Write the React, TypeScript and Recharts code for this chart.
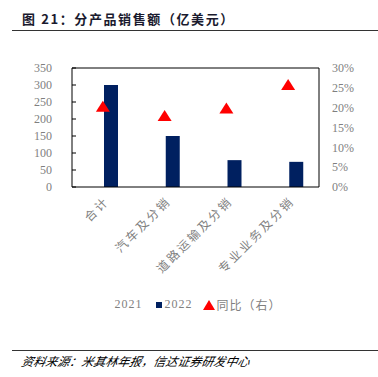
import React from "react";
import { ComposedChart, Bar, Line, XAxis, YAxis, ReferenceLine } from "recharts";

const categories = ["合计", "汽车及分销", "道路运输及分销", "专业业务及分销"];
const sales2021 = [250, 127, 66, 59];
const sales2022 = [300, 150, 79, 74];
const yoy = [0.202, 0.179, 0.198, 0.257];
const leftTicks = [0, 50, 100, 150, 200, 250, 300, 350];
const rightTicks = [0, 0.05, 0.1, 0.15, 0.2, 0.25, 0.3];

const NAVY = "#002060";
const GREY = "#7f7f7f";

const data = categories.map((name, i) => ({
  name,
  y2021: sales2021[i],
  y2022: sales2022[i],
  yoy: yoy[i],
}));

const Triangle = (props: any) => {
  const { cx, cy } = props;
  if (cx == null || cy == null) return null;
  return (
    <polygon
      points={`${cx},${cy - 6} ${cx - 7},${cy + 5} ${cx + 7},${cy + 5}`}
      fill="#ff0000"
    />
  );
};

const CatTick = (props: any) => {
  const { x, y, payload } = props;
  return (
    <text
      x={x}
      y={y}
      dy={10}
      textAnchor="end"
      fill={GREY}
      fontSize={12}
      letterSpacing={2.5}
      fontFamily="'Noto Sans CJK SC'"
      transform={`rotate(-45 ${x} ${y})`}
    >
      {payload.value}
    </text>
  );
};

const App = () => {
  return (
    <div
      style={{
        position: "absolute",
        left: 0,
        top: 0,
        width: 378,
        height: 377,
        background: "#fff",
        fontFamily: "'Liberation Serif', serif",
      }}
    >
      <div
        style={{
          position: "absolute",
          left: 22,
          top: 9,
          fontSize: 13,
          fontWeight: "bold",
          color: "#1a1a2e",
          fontFamily: "'Noto Sans CJK SC'",
          letterSpacing: 1.6,
        }}
      >
        图 21：分产品销售额（亿美元）
      </div>
      <div style={{ position: "absolute", left: 12, right: 0, top: 30, height: 1, background: "#333" }} />

      <div style={{ position: "absolute", left: 0, top: 0 }}>
        <ComposedChart
          width={378}
          height={280}
          data={data}
          margin={{ top: 68, right: 19, bottom: 0, left: 32 }}
          barSize={14}
          barGap={2}
        >
          <XAxis
            xAxisId="grid"
            type="number"
            domain={[0, 4]}
            ticks={[1, 2, 3]}
            interval={0}
            height={0}
            axisLine={false}
            tickSize={-4}
            tickLine={{ stroke: "#000" }}
            tick={false}
          />
          <XAxis
            dataKey="name"
            xAxisId="cat"
            height={93}
            axisLine={{ stroke: "#000" }}
            tickLine={false}
            tick={<CatTick />}
            interval={0}
          />
          <YAxis
            yAxisId="left"
            domain={[0, 350]}
            ticks={leftTicks}
            interval={0}
            width={40}
            axisLine={{ stroke: "#000" }}
            tickLine={{ stroke: "#000" }}
            tickSize={-4}
            tickMargin={24}
            tick={{ fill: GREY, fontSize: 12, fontFamily: "'Liberation Serif'" }}
          />
          <YAxis
            yAxisId="right"
            orientation="right"
            domain={[0, 0.3]}
            ticks={rightTicks}
            interval={0}
            width={40}
            axisLine={{ stroke: "#000" }}
            tickLine={false}
            tickSize={0}
            tickMargin={13}
            tickFormatter={(v: number) => `${Math.round(v * 100)}%`}
            tick={{ fill: GREY, fontSize: 12, fontFamily: "'Liberation Serif'", textAnchor: "start" }}
          />
          <ReferenceLine yAxisId="left" xAxisId="cat" y={350} stroke="#000" />
          <Bar xAxisId="cat" yAxisId="left" dataKey="y2021" fill="#ffffff" isAnimationActive={false} />
          <Bar xAxisId="cat" yAxisId="left" dataKey="y2022" fill={NAVY} isAnimationActive={false} />
          <Line
            xAxisId="cat"
            yAxisId="right"
            dataKey="yoy"
            stroke="none"
            dot={<Triangle />}
            activeDot={false}
            isAnimationActive={false}
          />
        </ComposedChart>
      </div>

      <div
        style={{
          position: "absolute",
          left: 0,
          width: 378,
          top: 296,
          display: "flex",
          justifyContent: "center",
          alignItems: "center",
          fontSize: 12,
          color: GREY,
          letterSpacing: 1,
        }}
      >
        <span style={{ marginLeft: 18 }}>2021</span>
        <span style={{ display: "inline-block", width: 6, height: 6, background: NAVY, marginLeft: 14, marginRight: 2 }} />
        <span>2022</span>
        <svg width={12} height={10} style={{ marginLeft: 11, marginRight: 1 }}>
          <polygon points="6,0 0,10 12,10" fill="#ff0000" />
        </svg>
        <span style={{ fontFamily: "'Noto Sans CJK SC'" }}>同比（右）</span>
      </div>

      <div style={{ position: "absolute", left: 12, right: 0, top: 350, height: 1, background: "#333" }} />
      <div
        style={{
          position: "absolute",
          left: 22,
          top: 352,
          fontSize: 12,
          fontStyle: "italic",
          color: "#000",
          fontFamily: "'Noto Sans CJK SC'",
          transform: "skewX(-12deg)",
        }}
      >
        资料来源：米其林年报，信达证券研发中心
      </div>
    </div>
  );
};

export default App;
